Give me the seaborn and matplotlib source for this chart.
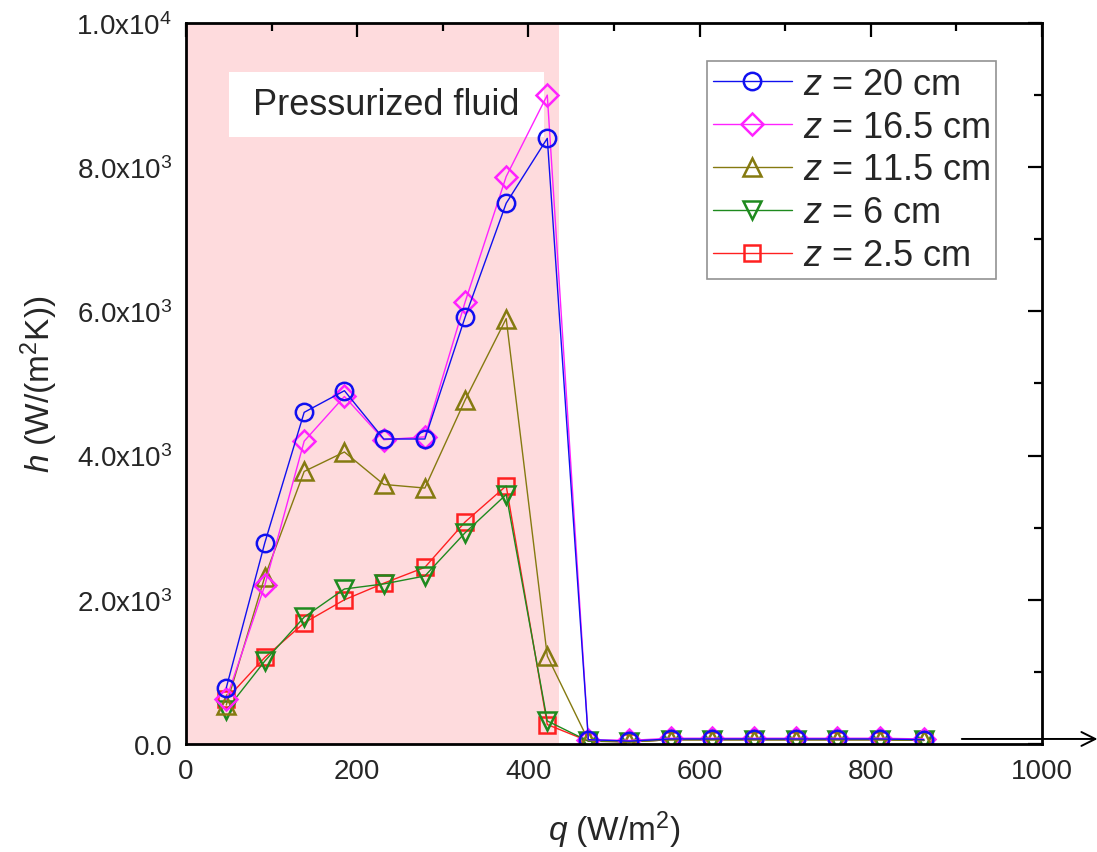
import numpy as np
import pandas as pd
import matplotlib
matplotlib.use("Agg")
import matplotlib.pyplot as plt
from matplotlib.ticker import MultipleLocator, FuncFormatter
from matplotlib.patches import Rectangle
import seaborn as sns

sns.set_theme(style="white")
plt.rcParams["font.family"] = ["Liberation Sans", "DejaVu Sans"]
plt.rcParams["mathtext.fontset"] = "custom"
plt.rcParams["mathtext.rm"] = "Liberation Sans"
plt.rcParams["mathtext.it"] = "Liberation Sans:italic"

# heat flux q (W/m^2)
q = [47, 92, 138, 185, 231, 279, 326, 374, 422, 470, 518, 566, 614, 663, 712, 761, 811, 862]

# heat transfer coefficient h (W/(m^2 K)) at each height z
h_z20 = [780, 2790, 4600, 4900, 4230, 4230, 5920, 7500, 8400,
         60, 40, 70, 70, 70, 70, 70, 70, 60]
h_z165 = [620, 2200, 4200, 4820, 4220, 4260, 6130, 7870, 9000,
          60, 50, 80, 80, 80, 80, 80, 80, 70]
h_z115 = [540, 2320, 3780, 4050, 3600, 3550, 4770, 5900, 1220,
          50, 30, 60, 60, 60, 60, 60, 60, 50]
h_z6 = [470, 1150, 1760, 2150, 2220, 2330, 2930, 3460, 320,
        40, 30, 60, 60, 60, 60, 60, 60, 50]
h_z25 = [620, 1200, 1680, 2000, 2230, 2450, 3080, 3580, 270,
         40, 30, 60, 60, 60, 60, 60, 60, 50]

labels = [r"$\mathit{z}$ = 20 cm", r"$\mathit{z}$ = 16.5 cm", r"$\mathit{z}$ = 11.5 cm",
          r"$\mathit{z}$ = 6 cm", r"$\mathit{z}$ = 2.5 cm"]
series = [h_z20, h_z165, h_z115, h_z6, h_z25]
colors = ["#1010F0", "#FF22FF", "#857A10", "#1E8A1E", "#FF2020"]
markers = ["o", "D", "^", "v", "s"]
msizes = [12.5, 11, 13.5, 13.5, 11]

pressurized_limit = 436

fig = plt.figure(figsize=(10.97, 8.53), dpi=100)
ax = fig.add_axes([0.1696, 0.1266, 0.7803, 0.8453])

ax.axvspan(0, pressurized_limit, color="#FEDBDD", zorder=0, lw=0)

handles = {}
for i in reversed(range(len(series))):
    df = pd.DataFrame({"q": q, "h": series[i]})
    sns.lineplot(data=df, x="q", y="h", ax=ax, color=colors[i], lw=1.0,
                 marker=markers[i], markersize=msizes[i], markerfacecolor="none",
                 markeredgecolor=colors[i], markeredgewidth=1.8, zorder=3 + (5 - i))
    handles[i] = ax.lines[-1]

ax.set_xlim(0, 1000)
ax.set_ylim(0, 10000)
ax.xaxis.set_major_locator(MultipleLocator(200))
ax.xaxis.set_minor_locator(MultipleLocator(100))
ax.yaxis.set_major_locator(MultipleLocator(2000))
ax.yaxis.set_minor_locator(MultipleLocator(1000))


def sci_fmt(v, pos):
    if v == 0:
        return "0.0"
    e = int(np.floor(np.log10(abs(v))))
    m = v / 10 ** e
    return r"$\mathregular{%.1fx10^{%d}}$" % (m, e)


ax.yaxis.set_major_formatter(FuncFormatter(sci_fmt))
ax.tick_params(which="both", direction="in", top=True, right=True,
               width=1.6, color="black", labelsize=20, pad=10)
ax.tick_params(which="major", length=10)
ax.tick_params(which="minor", length=6)
for sp in ax.spines.values():
    sp.set_linewidth(2.0)
    sp.set_color("black")
    sp.set_zorder(10)

ax.set_xlabel(r"$\mathit{q}$ (W/m$^2$)", fontsize=24, labelpad=18)
ax.set_ylabel(r"$\mathit{h}$ (W/(m$^2$K))", fontsize=24, labelpad=12)

# label box for the pressurized region
ax.add_patch(Rectangle((50, 8420), 368, 905, facecolor="white", edgecolor="none", zorder=2))
ax.text(234, 8870, "Pressurized fluid", fontsize=26, ha="center", va="center", zorder=2.5)

leg = ax.legend([handles[i] for i in range(5)], labels, loc="upper right",
                bbox_to_anchor=(0.946, 0.947), fontsize=26, frameon=True,
                fancybox=False, edgecolor="#777777", handlelength=2.2,
                handletextpad=0.3, borderpad=0.15, labelspacing=0.22,
                borderaxespad=0)
leg.get_frame().set_linewidth(1.2)
leg.set_zorder(20)

ax.annotate("", xy=(1068, 70), xytext=(903, 70),
            arrowprops=dict(arrowstyle="->", lw=1.4, color="black",
                            mutation_scale=25),
            annotation_clip=False)

fig.savefig("out.png", dpi=100)
